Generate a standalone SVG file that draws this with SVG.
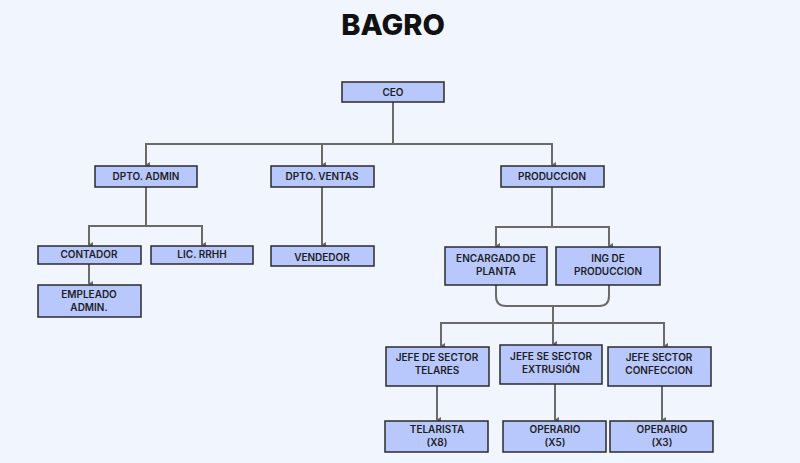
<svg xmlns="http://www.w3.org/2000/svg" width="800" height="463" viewBox="0 0 800 463">
<defs>
<marker id="ah" markerWidth="6" markerHeight="6" refX="3" refY="5" orient="auto-start-reverse" markerUnits="userSpaceOnUse" viewBox="0 0 6 6">
<path d="M0,1 L6,1 L3,6 Z" fill="#6b6b6b"/>
</marker>
</defs>
<style>
.n rect{fill:#b8c8fd;stroke:#2b2b2b;stroke-width:1.5}
.n text{font-family:Inter,"Open Sans",sans-serif;font-weight:600;font-size:10px;fill:#1e1e1e;text-anchor:middle}
#connectors path{fill:none;stroke:#6b6b6b;stroke-width:2}
#connectors .a{marker-end:url(#ah)}
</style>
<rect width="800" height="463" fill="#f1f6fe"/>
<text x="393" y="35" font-family="Inter,'Open Sans',sans-serif" font-weight="800" font-size="29" text-anchor="middle" fill="#111">BAGRO</text>
<g id="connectors">
<path d="M393,102 V144"/>
<path class="a" d="M393,144 H146 V165"/>
<path class="a" d="M322,144 V165"/>
<path class="a" d="M393,144 H552 V165"/>
<path d="M146,187 V226"/>
<path class="a" d="M146,226 H89 V245"/>
<path class="a" d="M146,226 H202 V245"/>
<path class="a" d="M322,187 V245"/>
<path class="a" d="M89,264 V284"/>
<path d="M552,187 V227"/>
<path class="a" d="M552,227 H496 V246"/>
<path class="a" d="M552,227 H609 V246"/>
<path d="M496,285 V296 Q496,306 506,306 H599 Q609,306 609,296 V285"/>
<path class="a" d="M553,306 V344"/>
<path class="a" d="M553,323 H441 V346"/>
<path class="a" d="M553,323 H664 V346"/>
<path class="a" d="M437,386 V420"/>
<path class="a" d="M555,384 V420"/>
<path class="a" d="M662,386 V420"/>
</g>
<g id="ceo" class="n"><rect x="342" y="82" width="102" height="20"/><text x="393" y="96">CEO</text></g>
<g id="admin" class="n"><rect x="95" y="166" width="102" height="21"/><text x="146" y="180">DPTO. ADMIN</text></g>
<g id="ventas" class="n"><rect x="271" y="166" width="103" height="21"/><text x="322" y="180">DPTO. VENTAS</text></g>
<g id="produccion" class="n"><rect x="501" y="166" width="103" height="21"/><text x="552" y="180">PRODUCCION</text></g>
<g id="contador" class="n"><rect x="38" y="246" width="103" height="18"/><text x="89" y="258">CONTADOR</text></g>
<g id="rrhh" class="n"><rect x="151" y="246" width="102" height="18"/><text x="202" y="258">LIC. RRHH</text></g>
<g id="vendedor" class="n"><rect x="271" y="246" width="103" height="20"/><text x="322" y="261">VENDEDOR</text></g>
<g id="empleado" class="n"><rect x="38" y="285" width="103" height="32"/><text x="89" y="298">EMPLEADO</text><text x="89" y="311">ADMIN.</text></g>
<g id="encargado" class="n"><rect x="445" y="247" width="102" height="38"/><text x="496" y="262">ENCARGADO DE</text><text x="496" y="275">PLANTA</text></g>
<g id="ing" class="n"><rect x="556" y="247" width="104" height="38"/><text x="608" y="262">ING DE</text><text x="608" y="275">PRODUCCION</text></g>
<g id="telares" class="n"><rect x="386" y="347" width="103" height="39"/><text x="437" y="361">JEFE DE SECTOR</text><text x="437" y="374">TELARES</text></g>
<g id="extrusion" class="n"><rect x="500" y="345" width="102" height="39"/><text x="551" y="360">JEFE SE SECTOR</text><text x="551" y="373">EXTRUSIÓN</text></g>
<g id="confeccion" class="n"><rect x="608" y="347" width="103" height="39"/><text x="659" y="361">JEFE SECTOR</text><text x="659" y="374">CONFECCION</text></g>
<g id="telarista" class="n"><rect x="385" y="421" width="103" height="31"/><text x="437" y="433">TELARISTA</text><text x="437" y="446">(X8)</text></g>
<g id="operario5" class="n"><rect x="503" y="421" width="103" height="31"/><text x="555" y="433">OPERARIO</text><text x="555" y="446">(X5)</text></g>
<g id="operario3" class="n"><rect x="610" y="421" width="103" height="31"/><text x="662" y="433">OPERARIO</text><text x="662" y="446">(X3)</text></g>
</svg>
